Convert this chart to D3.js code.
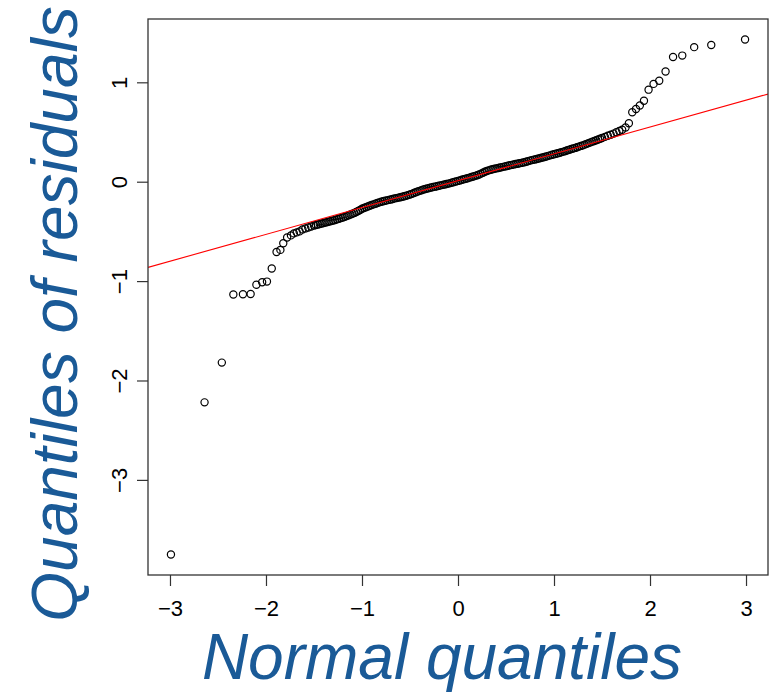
<!DOCTYPE html>
<html>
<head>
<meta charset="utf-8">
<script src="https://cdn.jsdelivr.net/npm/d3@7"></script>
<style>
  html, body { margin: 0; padding: 0; background: #fff; }
  svg { display: block; }
</style>
</head>
<body>
<svg id="chart" width="783" height="693"></svg>
<script>
// ---- data ----
const normalQ = [
  -2.99,-2.64,-2.46,-2.34,-2.24,-2.16,-2.10,-2.04,-1.99,-1.94,-1.89,-1.85,-1.82,-1.78,
  -1.74,-1.71,-1.68,-1.65,-1.62,-1.59,-1.56,-1.53,-1.50,
  -1.48,-1.46,-1.44,-1.42,-1.40,-1.38,-1.36,-1.34,-1.32,-1.30,-1.28,-1.26,
  -1.24,-1.22,-1.20,-1.18,-1.16,-1.14,-1.12,-1.10,-1.08,-1.06,-1.04,-1.02,
  -1.00,-0.98,-0.96,-0.94,-0.92,-0.90,-0.88,-0.86,-0.84,-0.82,
  -0.80,-0.78,-0.76,-0.74,-0.72,-0.70,-0.68,-0.66,-0.64,-0.62,
  -0.60,-0.58,-0.56,-0.54,-0.52,-0.50,-0.48,-0.46,-0.44,-0.42,
  -0.40,-0.38,-0.36,-0.34,-0.32,-0.30,-0.28,-0.26,-0.24,-0.22,
  -0.20,-0.18,-0.16,-0.14,-0.12,-0.10,-0.08,-0.06,-0.04,-0.02,
  0.00,
  0.02,0.04,0.06,0.08,0.10,0.12,0.14,0.16,0.18,0.20,
  0.22,0.24,0.26,0.28,0.30,0.32,0.34,0.36,0.38,0.40,
  0.42,0.44,0.46,0.48,0.50,0.52,0.54,0.56,0.58,0.60,
  0.62,0.64,0.66,0.68,0.70,0.72,0.74,0.76,0.78,0.80,
  0.82,0.84,0.86,0.88,0.90,0.92,0.94,0.96,0.98,1.00,
  1.02,1.04,1.06,1.08,1.10,1.12,1.14,1.16,1.18,1.20,1.22,1.24,
  1.26,1.28,1.30,1.32,1.34,1.36,1.38,1.40,1.42,1.44,1.46,1.48,
  1.50,1.53,1.56,1.59,1.62,1.65,1.68,1.71,
  1.745,1.78,1.815,1.854,1.894,1.937,1.985,2.037,2.096,2.162,2.24,2.336,2.46,2.638,2.99
];
const residualQ = [
  -3.75,-2.22,-1.82,-1.135,-1.132,-1.13,-1.037,-1.012,-1.005,-0.873,-0.708,-0.686,-0.619,-0.561,
  -0.54,-0.52,-0.51,-0.50,-0.48,-0.47,-0.46,-0.45,-0.44,
  -0.435,-0.43,-0.425,-0.42,-0.415,-0.41,-0.405,-0.40,-0.395,-0.39,-0.385,-0.378,
  -0.372,-0.366,-0.36,-0.353,-0.346,-0.338,-0.33,-0.322,-0.314,-0.305,-0.295,-0.285,
  -0.272,-0.265,-0.257,-0.250,-0.242,-0.235,-0.228,-0.222,-0.215,-0.208,
  -0.202,-0.197,-0.192,-0.188,-0.183,-0.179,-0.174,-0.168,-0.165,-0.160,
  -0.156,-0.152,-0.147,-0.142,-0.135,-0.129,-0.122,-0.114,-0.106,-0.098,
  -0.092,-0.086,-0.079,-0.074,-0.068,-0.063,-0.059,-0.054,-0.050,-0.045,
  -0.041,-0.037,-0.032,-0.028,-0.023,-0.019,-0.014,-0.008,-0.003,0.003,
  0.008,
  0.013,0.019,0.024,0.030,0.035,0.041,0.048,0.053,0.059,0.065,
  0.072,0.081,0.090,0.100,0.108,0.114,0.120,0.125,0.130,0.134,
  0.138,0.143,0.147,0.152,0.156,0.160,0.165,0.169,0.174,0.178,
  0.181,0.185,0.189,0.194,0.199,0.204,0.210,0.215,0.220,0.224,
  0.228,0.233,0.238,0.244,0.249,0.254,0.260,0.265,0.271,0.276,
  0.281,0.287,0.292,0.298,0.303,0.309,0.316,0.322,0.329,0.334,0.340,0.347,
  0.353,0.360,0.366,0.373,0.381,0.388,0.396,0.403,0.410,0.418,0.425,0.433,
  0.440,0.451,0.462,0.473,0.484,0.497,0.510,0.522,
  0.545,0.588,0.699,0.731,0.766,0.815,0.926,0.984,1.015,1.109,1.255,1.269,1.354,1.376,1.430
];
const xTicks = [-3, -2, -1, 0, 1, 2, 3];
const yTicks = [-3, -2, -1, 0, 1];
const qqLineIntercept = 0.010;
const qqLineSlope = 0.270;
const xTitle = "Normal quantiles";
const yTitle = "Quantiles of residuals";

// ---- drawing ----
const svg = d3.select("#chart");
const box = { left: 148, right: 768, top: 19, bottom: 575 };
const FONT = "'Liberation Sans', Arial, Helvetica, sans-serif";

const x = d3.scaleLinear().domain([-3.229, 3.229]).range([box.left, box.right]);
const y = d3.scaleLinear().domain([-3.957, 1.637]).range([box.bottom, box.top]);

svg.append("defs").append("clipPath").attr("id", "plotclip")
  .append("rect").attr("x", box.left).attr("y", box.top)
  .attr("width", box.right - box.left).attr("height", box.bottom - box.top);

// points
const pts = normalQ.map((d, i) => ({ q: d, r: residualQ[i] }));
svg.append("g")
  .selectAll("circle").data(pts).join("circle")
  .attr("cx", d => x(d.q)).attr("cy", d => y(d.r))
  .attr("r", 3.6)
  .attr("fill", "none").attr("stroke", "#000").attr("stroke-width", 1.2);

// qq line
const xd = x.domain();
svg.append("line")
  .attr("clip-path", "url(#plotclip)")
  .attr("x1", x(xd[0])).attr("y1", y(qqLineIntercept + qqLineSlope * xd[0]))
  .attr("x2", x(xd[1])).attr("y2", y(qqLineIntercept + qqLineSlope * xd[1]))
  .attr("stroke", "#ff0000").attr("stroke-width", 1.1);

// box
svg.append("rect")
  .attr("x", box.left).attr("y", box.top)
  .attr("width", box.right - box.left).attr("height", box.bottom - box.top)
  .attr("fill", "none").attr("stroke", "#333").attr("stroke-width", 1.3);

const fmt = d3.format("");

// x axis
const xAxis = svg.append("g")
  .attr("transform", `translate(0,${box.bottom})`)
  .call(d3.axisBottom(x).tickValues(xTicks).tickSize(11).tickPadding(0).tickFormat(fmt));
xAxis.select(".domain").remove();
xAxis.selectAll(".tick line").attr("stroke", "#333").attr("stroke-width", 1.2);
xAxis.selectAll(".tick text")
  .attr("y", 41).attr("dy", null)
  .attr("font-family", FONT).attr("font-size", 22).attr("fill", "#000");

// y axis
const yAxis = svg.append("g")
  .attr("transform", `translate(${box.left},0)`)
  .call(d3.axisLeft(y).tickValues(yTicks).tickSize(11).tickPadding(0).tickFormat(fmt));
yAxis.select(".domain").remove();
yAxis.selectAll(".tick line").attr("stroke", "#333").attr("stroke-width", 1.2);
yAxis.selectAll(".tick text")
  .attr("x", null).attr("dy", null)
  .attr("text-anchor", "middle")
  .attr("transform", "translate(-21,0) rotate(-90)")
  .attr("font-family", FONT).attr("font-size", 22).attr("fill", "#000");

// titles
svg.append("text")
  .attr("x", 442).attr("y", 679)
  .attr("text-anchor", "middle")
  .attr("font-family", FONT).attr("font-style", "italic")
  .attr("font-size", 64).attr("fill", "#1a5a97")
  .text(xTitle);

svg.append("text")
  .attr("transform", "translate(77,314) rotate(-90)")
  .attr("text-anchor", "middle")
  .attr("font-family", FONT).attr("font-style", "italic")
  .attr("font-size", 64).attr("fill", "#1a5a97")
  .text(yTitle);
</script>
</body>
</html>
